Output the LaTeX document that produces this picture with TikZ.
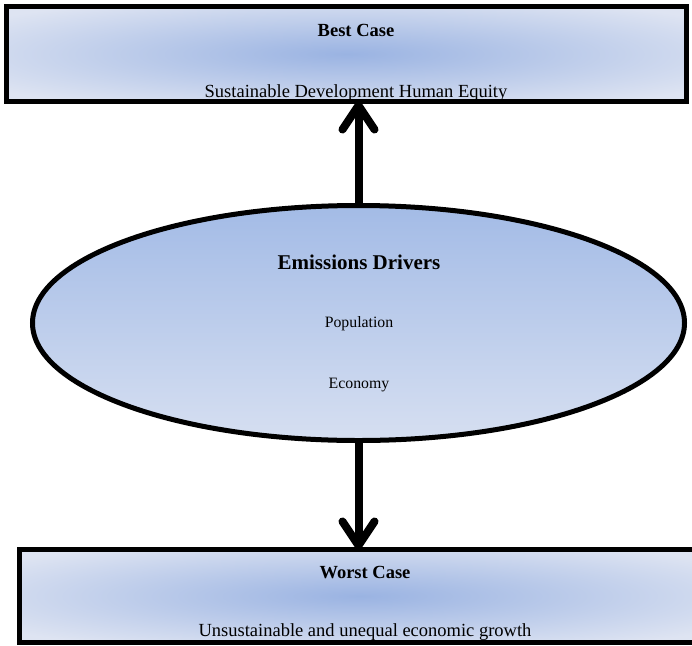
\documentclass[tikz,border=0pt]{standalone}
\usepackage{fontspec}
\setmainfont{Liberation Serif}
\usetikzlibrary{arrows.meta,shapes.geometric}
\definecolor{edgeblue}{HTML}{DEE4F2}
\definecolor{midblue}{HTML}{9AB3E2}
\definecolor{elltop}{HTML}{A3BBE6}
\definecolor{ellbot}{HTML}{D6DFF1}
\pgfdeclareradialshading{boxglow}{\pgfpoint{0bp}{0bp}}{%
  color(0bp)=(midblue); color(8bp)=(midblue!75!edgeblue); color(32bp)=(edgeblue); color(50bp)=(edgeblue)}
\tikzset{
  box/.style={rectangle, draw=none, shading=boxglow, inner sep=0pt, outer sep=0pt},
  boxline/.style={draw=black, line width=5pt},
  drv/.style={ellipse, draw=black, line width=5pt, top color=elltop, bottom color=ellbot,
    minimum width=652pt, minimum height=235pt, inner sep=0pt},
  boxtitle/.style={font=\fontsize{18.5}{22}\selectfont\bfseries, anchor=base},
  boxtext/.style={font=\fontsize{18.5}{22}\selectfont, anchor=base},
  bigtitle/.style={font=\fontsize{21}{25}\selectfont\bfseries, anchor=base},
  smalltext/.style={font=\fontsize{15.8}{19}\selectfont, anchor=base},
  arr/.style={line width=8pt, -{Straight Barb[length=24pt,width=32pt,round]}}
}
\begin{document}
\begin{tikzpicture}[x=1pt,y=-1pt]
\useasboundingbox[fill=white] (0,0) rectangle (692,645);
% top box
\node[box, minimum width=680pt, minimum height=95pt] (best) at (346.5,54) {};
\node[boxtitle] (bestt) at (356,36) {Best Case};
\node[boxtext] (bests) at (356,97) {Sustainable Development Human Equity};
\draw[boxline] (best.south west) rectangle (best.north east);
% bottom box
\node[box, minimum width=680.5pt, minimum height=93pt] (worst) at (359.75,596) {};
\node[boxtitle] (worstt) at (365,578) {Worst Case};
\node[boxtext] (worsts) at (365,636) {Unsustainable and unequal economic growth};
\draw[boxline] (worst.south west) rectangle (worst.north east);
% ellipse
\node[drv] (drivers) at (358.5,323) {};
\node[bigtitle] (dt) at (359,269) {Emissions Drivers};
\node[smalltext] (pop) at (359,327) {Population};
\node[smalltext] (eco) at (359,388) {Economy};
% arrows
\draw[arr] (drivers.north) -- (drivers.north |- best.south);
\draw[arr] (drivers.south) -- (drivers.south |- worst.north);
\end{tikzpicture}
\end{document}
